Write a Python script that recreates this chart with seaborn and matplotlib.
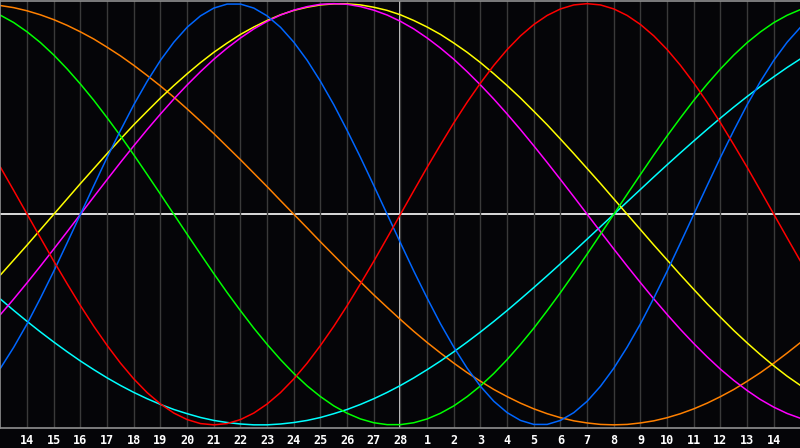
import numpy as np
import pandas as pd
import seaborn as sns
import matplotlib.pyplot as plt

# half-day steps from day index -1 to 29; labels sit on whole days 0 .. 28
days = [i / 2 for i in range(-2, 59)]
day_labels = [str(d) for d in range(14, 29)] + [str(d) for d in range(1, 15)]

# values (one every half day)
physical = [-0.731, -0.631, -0.520, -0.398, -0.270, -0.136,
            0.0, 0.136, 0.270, 0.398, 0.520, 0.631, 0.731, 0.817, 0.888, 0.942, 0.979, 0.998,
            0.998, 0.979, 0.942, 0.888, 0.817, 0.731, 0.631, 0.520, 0.398, 0.270, 0.136,
            0.0, -0.136, -0.270, -0.398, -0.520, -0.631, -0.731, -0.817, -0.888, -0.942, -0.979, -0.998,
            -0.998, -0.979, -0.942, -0.888, -0.817, -0.731, -0.631, -0.520, -0.398, -0.270, -0.136,
            0.0, 0.136, 0.270, 0.398, 0.520, 0.631, 0.731, 0.817, 0.888]
emotional = [0.223, 0.112, 0.0,
             -0.112, -0.223, -0.330, -0.434, -0.532, -0.623, -0.707, -0.782, -0.847, -0.901, -0.944,
             -0.975, -0.994, -1.0, -0.994, -0.975, -0.944, -0.901, -0.847, -0.782, -0.707, -0.623,
             -0.532, -0.434, -0.330, -0.223, -0.112,
             0.0, 0.112, 0.223, 0.330, 0.434, 0.532, 0.623, 0.707, 0.782, 0.847, 0.901, 0.944,
             0.975, 0.994, 1.0, 0.994, 0.975, 0.944, 0.901, 0.847, 0.782, 0.707, 0.623, 0.532,
             0.434, 0.330, 0.223, 0.112, 0.0,
             -0.112, -0.223]
intellectual = [0.945, 0.910, 0.866, 0.815, 0.756, 0.690, 0.618, 0.541, 0.458, 0.372, 0.282, 0.189, 0.095,
                0.0,
                -0.095, -0.189, -0.282, -0.372, -0.458, -0.541, -0.618, -0.690, -0.756, -0.815, -0.866,
                -0.910, -0.945, -0.972, -0.990, -0.999, -0.999, -0.990, -0.972, -0.945, -0.910, -0.866,
                -0.815, -0.756, -0.690, -0.618, -0.541, -0.458, -0.372, -0.282, -0.189, -0.095,
                0.0, 0.095, 0.189, 0.282, 0.372, 0.458, 0.541, 0.618, 0.690, 0.756, 0.815, 0.866,
                0.910, 0.945, 0.972]
intuitive = [-0.476, -0.402, -0.325, -0.246, -0.165, -0.083,
             0.0, 0.083, 0.165, 0.246, 0.325, 0.402, 0.476, 0.547, 0.614, 0.677, 0.736, 0.789, 0.837,
             0.880, 0.916, 0.946, 0.969, 0.986, 0.997, 1.0, 0.997, 0.986, 0.969, 0.946, 0.916, 0.880,
             0.837, 0.789, 0.736, 0.677, 0.614, 0.547, 0.476, 0.402, 0.325, 0.246, 0.165, 0.083, 0.0,
             -0.083, -0.165, -0.246, -0.325, -0.402, -0.476, -0.547, -0.614, -0.677, -0.736, -0.789,
             -0.837, -0.880, -0.916, -0.946, -0.969]
aesthetic = [-0.288, -0.217, -0.146, -0.073,
             0.0, 0.073, 0.146, 0.217, 0.288, 0.357, 0.425, 0.489, 0.552, 0.611, 0.667, 0.720, 0.769,
             0.813, 0.854, 0.889, 0.920, 0.947, 0.968, 0.983, 0.994, 0.999, 0.999, 0.994, 0.983, 0.968,
             0.947, 0.920, 0.889, 0.854, 0.813, 0.769, 0.720, 0.667, 0.611, 0.552, 0.489, 0.425, 0.357,
             0.288, 0.217, 0.146, 0.073, 0.0,
             -0.073, -0.146, -0.217, -0.288, -0.357, -0.425, -0.489, -0.552, -0.611, -0.667, -0.720,
             -0.769, -0.813]
awareness = [0.991, 0.981, 0.966, 0.947, 0.924, 0.897, 0.866, 0.832, 0.793, 0.752, 0.707, 0.659,
             0.609, 0.556, 0.5, 0.442, 0.383, 0.321, 0.259, 0.195, 0.131, 0.065, 0.0,
             -0.065, -0.131, -0.195, -0.259, -0.321, -0.383, -0.442, -0.5, -0.556, -0.609, -0.659,
             -0.707, -0.752, -0.793, -0.832, -0.866, -0.897, -0.924, -0.947, -0.966, -0.981, -0.991,
             -0.998, -1.0, -0.998, -0.991, -0.981, -0.966, -0.947, -0.924, -0.897, -0.866, -0.832,
             -0.793, -0.752, -0.707, -0.659, -0.609]
spiritual = [-0.403, -0.457, -0.509, -0.559, -0.607, -0.653, -0.697, -0.738, -0.777, -0.813, -0.846,
             -0.876, -0.903, -0.927, -0.947, -0.965, -0.979, -0.989, -0.996, -1.0, -1.0, -0.996,
             -0.989, -0.979, -0.965, -0.947, -0.927, -0.903, -0.876, -0.846, -0.813, -0.777, -0.738,
             -0.697, -0.653, -0.607, -0.559, -0.509, -0.457, -0.403, -0.348, -0.292, -0.235, -0.177,
             -0.118, -0.059,
             0.0, 0.059, 0.118, 0.177, 0.235, 0.292, 0.348, 0.403, 0.457, 0.509, 0.559, 0.607, 0.653,
             0.697, 0.738]

cycles = {
    "awareness": awareness,
    "spiritual": spiritual,
    "aesthetic": aesthetic,
    "intuitive": intuitive,
    "intellectual": intellectual,
    "physical": physical,
    "emotional": emotional,
}
colors = {
    "awareness": "#ff8000",
    "spiritual": "#00ffff",
    "aesthetic": "#ffff00",
    "intuitive": "#ff00ff",
    "intellectual": "#00ff00",
    "physical": "#0066ff",
    "emotional": "#ff0000",
}

df = pd.concat([pd.DataFrame({"day": days, "value": v, "cycle": k}) for k, v in cycles.items()],
               ignore_index=True)

bg = "#050508"
fig = plt.figure(figsize=(8, 4.48), dpi=100, facecolor=bg)
ax = fig.add_axes([0.0006, 20 / 448, 1.0, 427.5 / 448])
ax.set_facecolor(bg)

# day grid and centre cross
ax.set_xticks(range(0, 29))
ax.set_xticklabels(day_labels)
ax.grid(axis="x", color="#3a3a3a", lw=1, zorder=0)
ax.axhline(0, color="white", lw=1.2, zorder=1)
ax.axvline(14, color="white", lw=1.2, zorder=1)

sns.lineplot(data=df, x="day", y="value", hue="cycle", palette=colors, legend=False,
             estimator=None, sort=False, lw=1.1, ax=ax, zorder=2)

ax.set_xlim(-1, 29)
ax.set_ylim(-1.015, 1.015)
ax.set_yticks([])
ax.set_xlabel("")
ax.set_ylabel("")
ax.tick_params(axis="x", length=0, pad=4, colors="white")
for lbl in ax.get_xticklabels():
    lbl.set_fontfamily("DejaVu Sans Mono")
    lbl.set_fontweight("bold")
    lbl.set_fontsize(8.5)
for side in ["left", "top", "bottom"]:
    ax.spines[side].set_color("#909090")
    ax.spines[side].set_linewidth(1.2)
ax.spines["right"].set_visible(False)

fig.savefig("out.png", dpi=100, facecolor=bg)
